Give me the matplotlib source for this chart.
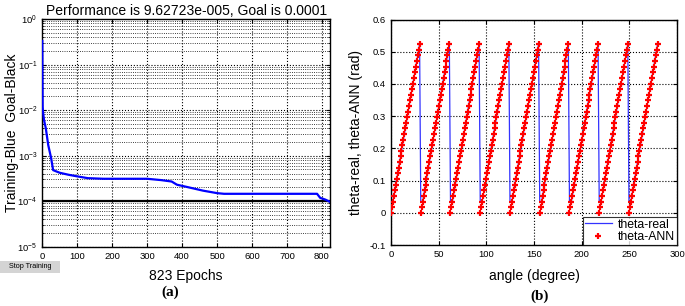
import matplotlib
matplotlib.use("Agg")
import matplotlib.pyplot as plt
import numpy as np
from matplotlib.patches import Rectangle
from matplotlib.ticker import LogLocator, NullFormatter, MultipleLocator

plt.rcParams['font.family'] = ['Liberation Sans', 'DejaVu Sans']

# ---------------- data (a) ----------------
epochs = [0, 1, 2, 5, 10, 17, 25, 31, 40, 50, 75, 100, 130, 175, 200, 250, 300,
          340, 370, 385, 420, 460, 500, 520, 600, 700, 786, 795, 810, 823]
perf = [0.33, 0.012, 0.009, 0.006, 0.004, 0.0017, 0.0009, 0.00048, 0.00045, 0.00042,
        0.00038, 0.00035, 0.00032, 0.00031, 0.00031, 0.00031, 0.00031,
        0.00029, 0.00027, 0.00023, 0.0002, 0.00017, 0.00015, 0.000145,
        0.000145, 0.000145, 0.000145, 0.000118, 0.000108, 9.63e-5]
goal = 1e-4
max_epoch = 823
x_ticks_a = [0, 100, 200, 300, 400, 500, 600, 700, 800]

# ---------------- data (b) ----------------
ramp_starts = [0, 31.2, 62.4, 93.6, 124.8, 156.0, 187.2, 218.4, 249.6]
ramp_steps = [0, 1, 2, 3, 4, 5, 6, 7, 8, 9, 10, 11, 12, 13, 14, 15, 16, 17, 18,
              19, 20, 21, 22, 23, 24, 25, 26, 27, 28, 29, 30]
theta_ann_ramp = [0.000, 0.017, 0.035, 0.052, 0.070, 0.087, 0.105, 0.122, 0.140,
                  0.157, 0.175, 0.192, 0.209, 0.227, 0.244, 0.262, 0.279, 0.297,
                  0.314, 0.332, 0.349, 0.367, 0.384, 0.401, 0.419, 0.436, 0.454,
                  0.471, 0.489, 0.506, 0.524]
theta_real_ramp = [0.035, 0.035, 0.035, 0.052, 0.070, 0.087, 0.105, 0.122, 0.140,
                   0.157, 0.175, 0.192, 0.209, 0.227, 0.244, 0.262, 0.279, 0.297,
                   0.314, 0.332, 0.349, 0.367, 0.384, 0.401, 0.419, 0.436, 0.454,
                   0.471, 0.489, 0.506, 0.524]

x_all = [s + k for s in ramp_starts for k in ramp_steps]
ann_all = [v for s in ramp_starts for v in theta_ann_ramp]
real_all = [v for s in ramp_starts for v in theta_real_ramp]

W, H = 685, 306
fig = plt.figure(figsize=(W / 100, H / 100), dpi=100)

def fr(x0, y0, x1, y1):
    return [x0 / W, 1 - y1 / H, (x1 - x0) / W, (y1 - y0) / H]

tick_fs = 6.8

# ---------------- panel (a) ----------------
ax1 = fig.add_axes(fr(42.3, 19, 330, 246.7))
ax1.set_yscale('log')
ax1.set_xlim(0, max_epoch)
ax1.set_ylim(1e-5, 1e0)
ax1.set_xticks(x_ticks_a)
ax1.yaxis.set_major_locator(LogLocator(base=10, numticks=10))
ax1.yaxis.set_minor_locator(LogLocator(base=10, subs=np.arange(2, 10), numticks=20))
ax1.yaxis.set_minor_formatter(NullFormatter())
ax1.grid(True, which='major', color='black', linestyle=':', linewidth=0.8)
ax1.grid(True, which='minor', axis='y', color='black', linestyle=':', linewidth=0.6)
ax1.axhline(goal, color='black', linewidth=1.6, zorder=3)
ax1.plot(epochs, perf, color='#0000ff', linewidth=1.6, zorder=4)
ax1.tick_params(direction='in', labelsize=tick_fs, top=True, right=True, which='both', length=3)
ax1.tick_params(which='minor', length=1.5)
for sp in ax1.spines.values():
    sp.set_linewidth(1.0)
ax1.set_title('Performance is 9.62723e-005, Goal is 0.0001', fontsize=10, pad=3)
ax1.set_xlabel('823 Epochs', fontsize=10, labelpad=6)
ax1.set_ylabel('Training-Blue  Goal-Black', fontsize=10)
ax1.yaxis.set_label_coords((19 - 42.3) / 287.7, 0.5)

# Stop Training button
fig.patches.append(Rectangle((0, 1 - 273 / H), 60 / W, 12.5 / H, transform=fig.transFigure,
                             facecolor='#d4d4d4', edgecolor='none'))
fig.text(30 / W, 1 - 266.5 / H, 'Stop Training', fontsize=5.2, ha='center', va='center')
fig.text(170 / W, 1 - 292 / H, '(a)', fontsize=11, fontweight='bold',
         family='Liberation Serif', ha='center', va='center')

# ---------------- panel (b) ----------------
ax2 = fig.add_axes(fr(391, 19.5, 677, 245))
ax2.set_xlim(0, 300)
ax2.set_ylim(-0.1, 0.6)
ax2.xaxis.set_major_locator(MultipleLocator(50))
ax2.set_yticks([-0.1, 0, 0.1, 0.2, 0.3, 0.4, 0.5, 0.6])
ax2.set_yticklabels(['-0.1', '0', '0.1', '0.2', '0.3', '0.4', '0.5', '0.6'])
ax2.grid(True, color='black', linestyle=':', linewidth=0.8)
ax2.plot(x_all, real_all, color='#3333ff', linewidth=0.9, label='theta-real', zorder=3)
ax2.plot(x_all, ann_all, linestyle='none', marker='+', markersize=5,
         color='#ff0000', markeredgewidth=1.6, label='theta-ANN', zorder=4)
ax2.tick_params(direction='in', labelsize=tick_fs, top=True, right=True, length=3)
for sp in ax2.spines.values():
    sp.set_linewidth(1.0)
ax2.set_xlabel('angle (degree)', fontsize=10, labelpad=7)
ax2.set_ylabel('theta-real, theta-ANN (rad)', fontsize=10, labelpad=5)
leg = ax2.legend(loc='lower right', fontsize=8.8, frameon=True, fancybox=False,
                 borderaxespad=0, handlelength=2.2, borderpad=0.15, labelspacing=0.05,
                 handletextpad=0.5)
leg.get_frame().set_edgecolor('black')
leg.get_frame().set_linewidth(0.8)
fig.text(540 / W, 1 - 296 / H, '(b)', fontsize=11, fontweight='bold',
         family='Liberation Serif', ha='center', va='center')

fig.savefig('out.png', dpi=100)
